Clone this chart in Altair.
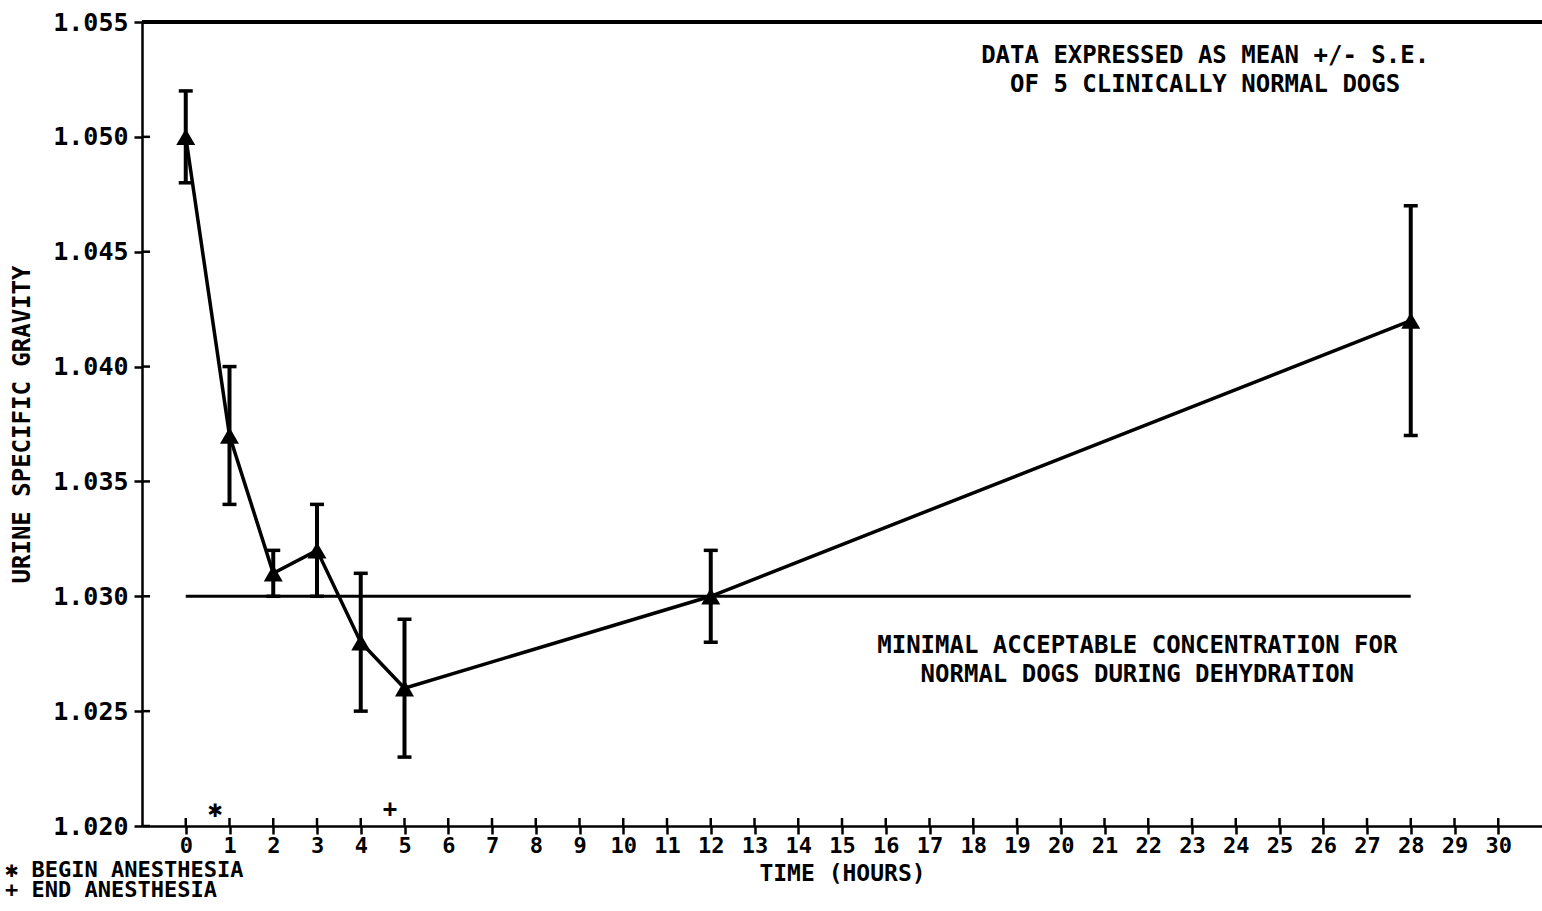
import altair as alt
import pandas as pd

# ---- data ----
hours = [0, 1, 2, 3, 4, 5, 12, 28]
mean_sg = [1.050, 1.037, 1.031, 1.032, 1.028, 1.026, 1.030, 1.042]
se_low = [1.048, 1.034, 1.030, 1.030, 1.025, 1.023, 1.028, 1.037]
se_high = [1.052, 1.040, 1.032, 1.034, 1.031, 1.029, 1.032, 1.047]

ref_level = 1.030
ref_start, ref_end = 0, 28

event_hours = [0.67, 4.67]
event_level = [1.0207, 1.0207]
event_symbols = ["\u2731", "+"]

x_ticks = list(range(0, 31))
y_ticks = [1.020, 1.025, 1.030, 1.035, 1.040, 1.045, 1.050, 1.055]

note1 = ["DATA EXPRESSED AS MEAN +/- S.E.", "OF 5 CLINICALLY NORMAL DOGS"]
note1_pos = (23.3, 1.0535)
note2 = ["MINIMAL ACCEPTABLE CONCENTRATION FOR", "NORMAL DOGS DURING DEHYDRATION"]
note2_pos = (21.75, 1.02785)
legend_lines = ["\u2731 BEGIN ANESTHESIA", "+ END ANESTHESIA"]

W, H = 1400, 804
FONT = "DejaVu Sans Mono"

df = pd.DataFrame({"hour": hours, "mean": mean_sg, "lo": se_low, "hi": se_high})
ref_df = pd.DataFrame({"x0": [ref_start], "x1": [ref_end], "y": [ref_level]})
ev_df = pd.DataFrame({"hour": event_hours, "y": event_level, "sym": event_symbols})
xt_df = pd.DataFrame({"t": x_ticks})
yt_df = pd.DataFrame({"t": y_ticks})
notes_df = pd.DataFrame({
    "x": [note1_pos[0], note2_pos[0]],
    "y": [note1_pos[1], note2_pos[1]],
    "txt": [note1, note2],
})
leg_df = pd.DataFrame({"txt": [legend_lines]})

xs = alt.Scale(domain=[-1, 31], nice=False, zero=False)
ys = alt.Scale(domain=[1.020, 1.055], nice=False, zero=False)

x_axis = alt.Axis(
    values=x_ticks, title="TIME  (HOURS)", grid=False,
    labelFont=FONT, labelFontWeight="bold", labelFontSize=22, labelColor="black",
    labelPadding=1, tickSize=8, tickWidth=2.5, tickColor="black",
    domainColor="black", domainWidth=2.5,
    titleFont=FONT, titleFontWeight="bold", titleFontSize=23, titleColor="black",
    titleX=700, titleY=47, titleBaseline="middle", titleAlign="center",
)
y_axis = alt.Axis(
    values=y_ticks, format=".3f", title="URINE SPECIFIC GRAVITY", grid=False,
    labelFont=FONT, labelFontWeight="bold", labelFontSize=25, labelColor="black",
    labelPadding=6, tickSize=8, tickWidth=2.5, tickColor="black",
    domainColor="black", domainWidth=2.5,
    titleFont=FONT, titleFontWeight="bold", titleFontSize=24, titleColor="black",
    titleX=-120, titleY=H / 2, titleAngle=270, titleBaseline="middle", titleAlign="center",
)

X = lambda f: alt.X(f, scale=xs, axis=x_axis, title="TIME  (HOURS)")
Y = lambda f: alt.Y(f, scale=ys, axis=y_axis, title="URINE SPECIFIC GRAVITY")

base = alt.Chart(df)

line = base.mark_line(color="black", strokeWidth=3.5).encode(
    x=X("hour:Q"), y=Y("mean:Q")
)
bars = base.mark_rule(color="black", strokeWidth=4).encode(
    x=X("hour:Q"), y=Y("lo:Q"), y2="hi:Q"
)
cap_lo = base.mark_tick(color="black", orient="horizontal", size=14, thickness=3.5, opacity=1).encode(
    x=X("hour:Q"), y=Y("lo:Q")
)
cap_hi = base.mark_tick(color="black", orient="horizontal", size=14, thickness=3.5, opacity=1).encode(
    x=X("hour:Q"), y=Y("hi:Q")
)
pts = base.mark_point(shape="triangle-up", filled=True, color="black", size=360, opacity=1).encode(
    x=X("hour:Q"), y=Y("mean:Q")
)

ref = alt.Chart(ref_df).mark_rule(color="black", strokeWidth=3).encode(
    x=X("x0:Q"), x2="x1:Q", y=Y("y:Q")
)

events = alt.Chart(ev_df).mark_text(font=FONT, fontWeight="bold", fontSize=24, color="black").encode(
    x=X("hour:Q"), y=Y("y:Q"), text="sym:N"
)

top_line = alt.Chart(xt_df).mark_rule(color="black", strokeWidth=2.5).encode(
    x=alt.value(0), x2=alt.value(W), y=alt.value(0)
)
x_in_ticks = alt.Chart(xt_df).mark_rule(color="black", strokeWidth=2.5).encode(
    x=X("t:Q"), y=alt.value(H), y2=alt.value(H - 8)
)
y_in_ticks = alt.Chart(yt_df).mark_rule(color="black", strokeWidth=2.5).encode(
    y=Y("t:Q"), x=alt.value(0), x2=alt.value(8)
)

notes = alt.Chart(notes_df).mark_text(
    font=FONT, fontWeight="bold", fontSize=24, color="black", align="center",
    baseline="middle", lineHeight=29,
).encode(x=X("x:Q"), y=Y("y:Q"), text="txt")

legend = alt.Chart(leg_df).mark_text(
    font=FONT, fontWeight="bold", fontSize=22, color="black", align="left",
    baseline="middle", lineHeight=20,
).encode(
    x=alt.value(-137), y=alt.value(H + 44), text="txt"
)

chart = alt.layer(
    line, top_line, ref, bars, cap_lo, cap_hi, pts, events, x_in_ticks, y_in_ticks, notes, legend
).properties(
    width=W, height=H,
    autosize=alt.AutoSizeParams(type="none"),
    padding={"left": 142, "top": 22, "right": 0, "bottom": 85},
).configure_view(stroke=None).configure(background="white")

chart.save("out.html", embed_options={"renderer": "svg", "actions": False})
